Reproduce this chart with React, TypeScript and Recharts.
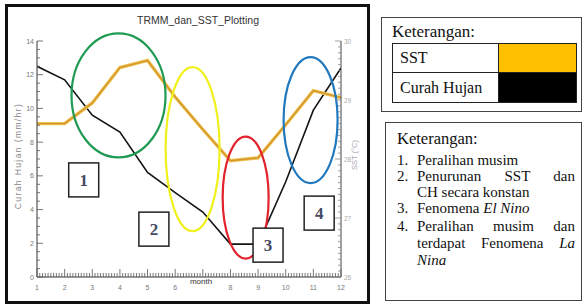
import React from 'react';
import { ComposedChart, Line, XAxis, YAxis, ReferenceDot } from 'recharts';

const months = [1, 2, 3, 4, 5, 6, 7, 8, 9, 10, 11, 12];
const rainfall = [12.5, 11.7, 9.6, 8.6, 6.2, 5.0, 3.85, 1.95, 1.95, 5.65, 9.9, 12.4];
const sst = [28.6, 28.6, 28.95, 29.55, 29.67, 29.05, 28.5, 27.97, 28.02, 28.58, 29.16, 29.04];

// tick labels (the "7" is hidden under the "month" title in the reference)
const monthLabels = ['1', '2', '3', '4', '5', '6', '', '8', '9', '10', '11', '12'];
const leftMajorLabels = ['0', '2', '4', '6', '8', '10', '12', '14'];
const rightMajorLabels = ['26', '27', '28', '29', '30'];

const ellipses = [
  { month: 3.95, value: 10.77, rx: 47, ry: 62, color: '#1f9a52' },
  { month: 6.63, value: 7.59, rx: 27, ry: 82, color: '#f0f01c' },
  { month: 8.55, value: 4.71, rx: 23, ry: 61, color: '#e2232b' },
  { month: 10.9, value: 9.31, rx: 27, ry: 63, color: '#2079bf' },
];
const numberBoxes = [
  { month: 2.69, value: 5.76, label: '1' },
  { month: 5.23, value: 2.84, label: '2' },
  { month: 9.36, value: 1.89, label: '3' },
  { month: 11.21, value: 3.79, label: '4' },
];

const data = months.map((m, i) => ({ month: m, rain: rainfall[i], sst: sst[i] }));

const xTicks = Array.from({ length: 111 }, (_, i) => Math.round((1 + i / 10) * 10) / 10);
const yLeftTicks = Array.from({ length: 29 }, (_, i) => i * 0.5);
const yRightTicks = Array.from({ length: 41 }, (_, i) => Math.round((26 + i / 10) * 10) / 10);

const isInt = (v: number) => Math.abs(v - Math.round(v)) < 1e-6;

const BottomTick = (p: any) => {
  const v = p.payload.value;
  const major = isInt(v);
  const label = major ? monthLabels[Math.round(v) - 1] : '';
  return (
    <g>
      <line x1={p.x} y1={p.y} x2={p.x} y2={p.y - (major ? 8 : 4)} stroke="#555" strokeWidth={0.8} />
      {label && (
        <text x={p.x} y={p.y + 13} textAnchor="middle" fontSize={7} fill="#777">
          {label}
        </text>
      )}
    </g>
  );
};

const TopTick = (p: any) => {
  const v = p.payload.value;
  const major = isInt(v);
  return <line x1={p.x} y1={p.y} x2={p.x} y2={p.y + (major ? 8 : 4)} stroke="#666" strokeWidth={0.8} />;
};

const LeftTick = (p: any) => {
  const v = p.payload.value;
  const major = isInt(v / 2);
  return (
    <g>
      <line x1={p.x} y1={p.y} x2={p.x + (major ? 6 : 3)} y2={p.y} stroke="#555" strokeWidth={0.8} />
      {major && (
        <text x={p.x - 3} y={p.y + 2.5} textAnchor="end" fontSize={7} fill="#777">
          {leftMajorLabels[Math.round(v / 2)]}
        </text>
      )}
    </g>
  );
};

const RightTick = (p: any) => {
  const v = p.payload.value;
  const major = isInt(v);
  return (
    <g>
      <line x1={p.x} y1={p.y} x2={p.x - (major ? 6 : 3)} y2={p.y} stroke="#888" strokeWidth={0.8} />
      {major && (
        <text x={p.x + 3} y={p.y + 2.5} textAnchor="start" fontSize={6.5} fill="#aaa">
          {rightMajorLabels[Math.round(v) - 26]}
        </text>
      )}
    </g>
  );
};

const serif = '"Liberation Serif", "Times New Roman", serif';

export default function App() {
  return (
    <div style={{ position: 'absolute', left: 0, top: 0, width: 583, height: 305, background: '#fff', fontFamily: '"Liberation Sans", Arial, sans-serif', overflow: 'hidden' }}>
      <div style={{ position: 'absolute', left: 5, top: 4, width: 365, height: 300, border: '3px solid #111', boxSizing: 'border-box' }}>
        <ComposedChart width={359} height={294} data={data} margin={{ top: 34, right: 0, bottom: 0, left: 0 }}>
          <XAxis xAxisId="bottom" dataKey="month" type="number" domain={[1, 12]} ticks={xTicks} interval={0}
            tick={<BottomTick />} tickLine={false} tickSize={0} tickMargin={0} height={24} stroke="#333" allowDataOverflow />
          <XAxis xAxisId="top" orientation="top" dataKey="month" type="number" domain={[1, 12]} ticks={xTicks} interval={0}
            tick={<TopTick />} tickLine={false} tickSize={0} tickMargin={0} height={0} stroke="#333" allowDataOverflow />
          <YAxis yAxisId="left" type="number" domain={[0, 14]} ticks={yLeftTicks} interval={0}
            tick={<LeftTick />} tickLine={false} tickSize={0} tickMargin={0} width={29} stroke="#333" allowDataOverflow />
          <YAxis yAxisId="right" orientation="right" type="number" domain={[26, 30]} ticks={yRightTicks} interval={0}
            tick={<RightTick />} tickLine={false} tickSize={0} tickMargin={0} width={26} stroke="#444" allowDataOverflow />
          <Line xAxisId="bottom" yAxisId="left" type="linear" dataKey="rain" stroke="#141414" strokeWidth={1.6} dot={false} isAnimationActive={false} />
          <Line xAxisId="bottom" yAxisId="right" type="linear" dataKey="sst" stroke="#ecc24c" strokeWidth={3.4} dot={false} isAnimationActive={false} />
          <Line xAxisId="bottom" yAxisId="right" type="linear" dataKey="sst" stroke="#d6952f" strokeWidth={1.4} dot={false} isAnimationActive={false} />
          {ellipses.map((e, i) => (
            <ReferenceDot key={'e' + i} xAxisId="bottom" yAxisId="left" x={e.month} y={e.value} r={1} ifOverflow="visible"
              shape={(p: any) => <ellipse cx={p.cx} cy={p.cy} rx={e.rx} ry={e.ry} fill="none" stroke={e.color} strokeWidth={2.2} />} />
          ))}
          {numberBoxes.map((b, i) => (
            <ReferenceDot key={'b' + i} xAxisId="bottom" yAxisId="left" x={b.month} y={b.value} r={1} ifOverflow="visible"
              shape={(p: any) => (
                <g>
                  <rect x={p.cx - 15} y={p.cy - 17} width={30} height={34} fill="#fff" stroke="#222" strokeWidth={1.5} />
                  <text x={p.cx} y={p.cy + 6} textAnchor="middle" fontSize={17} fontWeight="bold" fill="#454a62" fontFamily={serif}>{b.label}</text>
                </g>
              )} />
          ))}
        </ComposedChart>
      </div>
      <div style={{ position: 'absolute', left: 98, top: 13, width: 200, textAlign: 'center', fontSize: 10.5, lineHeight: '14px', color: '#333' }}>TRMM_dan_SST_Plotting</div>
      <div style={{ position: 'absolute', left: -42, top: 150, width: 120, height: 12, lineHeight: '12px', textAlign: 'center', fontSize: 8.5, letterSpacing: 1.4, color: '#888', transform: 'rotate(-90deg)' }}>Curah Hujan (mm/hr)</div>
      <div style={{ position: 'absolute', left: 335, top: 149, width: 40, height: 12, lineHeight: '12px', textAlign: 'center', fontSize: 7.5, color: '#aaa', transform: 'rotate(-90deg)' }}>SST (°C)</div>
      <div style={{ position: 'absolute', left: 171, top: 276, width: 60, lineHeight: '12px', textAlign: 'center', fontSize: 8, color: '#333' }}>month</div>

      <div style={{ position: 'absolute', left: 381, top: 17, width: 201, height: 95, border: '1px solid #444', boxSizing: 'border-box', fontFamily: serif, color: '#111' }}>
        <div style={{ position: 'absolute', left: 10, top: 4, fontSize: 17, lineHeight: '20px' }}>Keterangan:</div>
        <div style={{ position: 'absolute', left: 10, top: 25, width: 185, height: 60, border: '1px solid #222', boxSizing: 'border-box' }}>
          <div style={{ position: 'absolute', left: 0, top: 0, width: 106, height: 29, borderRight: '1px solid #222', borderBottom: '1px solid #222', boxSizing: 'border-box', fontSize: 16, lineHeight: '28px', paddingLeft: 7 }}>SST</div>
          <div style={{ position: 'absolute', left: 106, top: 0, right: 0, height: 29, background: '#ffc000', borderBottom: '1px solid #222', boxSizing: 'border-box' }} />
          <div style={{ position: 'absolute', left: 0, top: 29, width: 106, bottom: 0, borderRight: '1px solid #222', boxSizing: 'border-box', fontSize: 16, lineHeight: '29px', paddingLeft: 7 }}>Curah Hujan</div>
          <div style={{ position: 'absolute', left: 106, top: 29, right: 0, bottom: 0, background: '#000' }} />
        </div>
      </div>

      <div style={{ position: 'absolute', left: 385, top: 122, width: 197, height: 179, border: '1px solid #444', boxSizing: 'border-box', fontFamily: serif, color: '#111', fontSize: 15 }}>
        <div style={{ position: 'absolute', left: 11, top: 6, fontSize: 16.5, lineHeight: '20px' }}>Keterangan:</div>
        {[
          { top: 28, num: '1.', content: <>Peralihan musim</>, justify: false },
          { top: 44, num: '2.', content: <>Penurunan SST dan</>, justify: true },
          { top: 60, num: '', content: <>CH secara konstan</>, justify: false },
          { top: 76, num: '3.', content: <>Fenomena <i>El Nino</i></>, justify: false },
          { top: 94, num: '4.', content: <>Peralihan musim dan</>, justify: true },
          { top: 111, num: '', content: <>terdapat Fenomena <i>La</i></>, justify: true },
          { top: 128, num: '', content: <i>Nina</i>, justify: false },
        ].map((l, i) => (
          <React.Fragment key={i}>
            {l.num && <div style={{ position: 'absolute', left: 11, top: l.top, lineHeight: '18px' }}>{l.num}</div>}
            <div style={{ position: 'absolute', left: 31, top: l.top, width: 158, lineHeight: '18px', whiteSpace: 'nowrap', textAlign: l.justify ? 'justify' : 'left', textAlignLast: l.justify ? 'justify' : 'left' } as any}>{l.content}</div>
          </React.Fragment>
        ))}
      </div>
    </div>
  );
}
